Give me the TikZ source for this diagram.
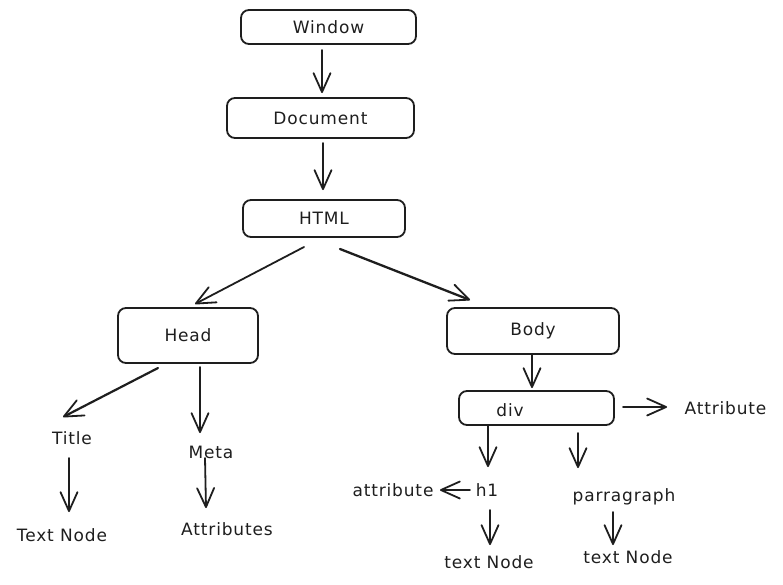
\documentclass[tikz,border=0pt]{standalone}
\usepackage{fontspec}
\setmainfont{DejaVu Sans}[LetterSpace=5]
\usetikzlibrary{arrows.meta,calc}
\definecolor{ink}{HTML}{1E1E1E}
\tikzset{
  box/.style={draw=ink, line width=1.8pt, rounded corners=8pt, inner sep=0pt, text=ink},
  lbl/.style={inner sep=0pt, text=ink, font=\fontsize{17}{19}\selectfont},
  arr/.style={draw=ink, line width=1.8pt, line cap=round,
    -{Straight Barb[length=19pt,width=17pt,line width=1.8pt,round]}},
}
\begin{document}
\begin{tikzpicture}[x=1pt,y=-1pt]
\useasboundingbox (0,0) rectangle (783,584);
% boxes
\node[box, minimum width=175pt, minimum height=34pt, font=\fontsize{17}{19}\selectfont] (window) at (328.5,27) {Window};
\node[box, minimum width=187pt, minimum height=40pt, font=\fontsize{17}{19}\selectfont] (document) at (320.5,118) {Document};
\node[box, minimum width=162pt, minimum height=37pt, font=\fontsize{17}{19}\selectfont] (html) at (324,218.5) {HTML};
\node[box, minimum width=140pt, minimum height=55pt, font=\fontsize{17}{19}\selectfont] (head) at (188,335.5) {Head};
\node[box, minimum width=172pt, minimum height=46pt, font=\fontsize{17}{19}\selectfont] (body) at (533,331) {Body};
\node[box, minimum width=155pt, minimum height=34pt] (div) at (536.5,408) {};
\node[lbl] (divlabel) at (510,410) {div};
% free labels
\node[lbl] (title) at (72,438) {Title};
\node[lbl] (meta) at (211,452) {Meta};
\node[lbl] (textnodeA) at (62,535) {Text Node};
\node[lbl] (attributes) at (227,529) {Attributes};
\node[lbl] (attribute) at (725.5,408) {Attribute};
\node[lbl] (h1) at (487,490) {h1};
\node[lbl] (attrsmall) at (393,490) {attribute};
\node[lbl] (parra) at (624,497) {parragraph};
\node[lbl] (textnodeB) at (489,562) {text Node};
\node[lbl] (textnodeC) at (628,557) {text Node};
% connectors
\draw[arr] ([shift={(-6.5,23)}]window.center) -- ([shift={(1.5,-25)}]document.center);
\draw[arr] ([shift={(2.5,25)}]document.center) -- ([shift={(-1,-28.5)}]html.center);
\draw[arr] ([shift={(-20,28.5)}]html.center) -- ([shift={(7,-31.5)}]head.center);
\draw[arr, line width=2.3pt] ([shift={(16,30.5)}]html.center) -- ([shift={(-63,-31)}]body.center);
\draw[arr, line width=2.2pt] ([shift={(-30,32.5)}]head.center) -- ([shift={(-9,-21)}]title.center);
\draw[arr] ([shift={(12,31.5)}]head.center) -- ([shift={(-11,-19)}]meta.center);
\draw[arr] ([shift={(-3,20)}]title.center) -- ([shift={(7,-23)}]textnodeA.center);
\draw[arr] ([shift={(-6,6)}]meta.center) -- ([shift={(-21,-21)}]attributes.center);
\draw[arr] ([shift={(-1,24)}]body.center) -- ([shift={(-4.5,-20)}]div.center);
\draw[arr] ([shift={(86.5,-1)}]div.center) -- ([shift={(-58.5,-1)}]attribute.center);
\draw[arr] ([shift={(-48.5,17)}]div.center) -- ([shift={(1,-23)}]h1.center);
\draw[arr] ([shift={(41.5,25)}]div.center) -- ([shift={(-46,-29)}]parra.center);
\draw[arr] ([shift={(-17,0)}]h1.center) -- ([shift={(47,0)}]attrsmall.center);
\draw[arr] ([shift={(3,20)}]h1.center) -- ([shift={(1,-17)}]textnodeB.center);
\draw[arr] ([shift={(-11,15)}]parra.center) -- ([shift={(-15,-12)}]textnodeC.center);
\end{tikzpicture}
\end{document}
